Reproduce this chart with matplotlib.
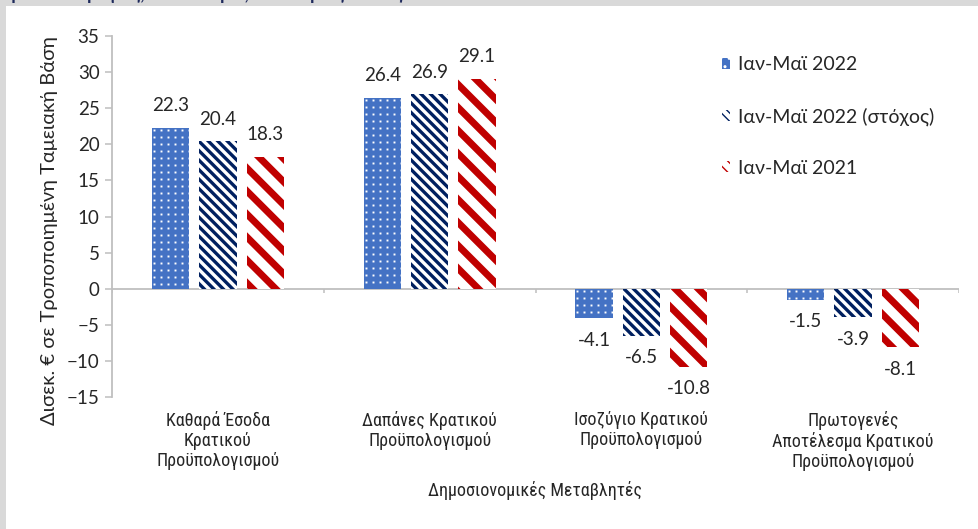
import numpy as np
import matplotlib
matplotlib.use('Agg')
import matplotlib.pyplot as plt
import matplotlib.patches as mpatches
from matplotlib.collections import LineCollection
from matplotlib.transforms import IdentityTransform
from matplotlib import font_manager

categories = ['Καθαρά Έσοδα\nΚρατικού\nΠροϋπολογισμού',
              'Δαπάνες Κρατικού\nΠροϋπολογισμού',
              'Ισοζύγιο Κρατικού\nΠροϋπολογισμού',
              'Πρωτογενές\nΑποτέλεσμα Κρατικού\nΠροϋπολογισμού']
series_names = ['Ιαν-Μαϊ 2022', 'Ιαν-Μαϊ 2022 (στόχος)', 'Ιαν-Μαϊ 2021']
jan_may_2022 = [22.3, 26.4, -4.1, -1.5]
jan_may_2022_target = [20.4, 26.9, -6.5, -3.9]
jan_may_2021 = [18.3, 29.1, -10.8, -8.1]
yticks = list(range(-15, 40, 5))

blue = '#4472C4'
navy = '#002060'
red = '#C00000'
grey = '#bfbfbf'
txt = '#262626'

plt.rcParams['font.family'] = ['Lato', 'Open Sans', 'DejaVu Sans']

# a condensed face for the category labels, if one is installed
installed = {f.name for f in font_manager.fontManager.ttflist}
narrow = [n for n in ['Liberation Sans Narrow', 'Roboto Condensed', 'DejaVu Sans Condensed',
                      'Open Sans Condensed', 'Noto Sans Condensed'] if n in installed]
narrow_family = narrow[:1] + ['Lato', 'DejaVu Sans']
narrow_size = 13 if narrow else 12.3

fig = plt.figure(figsize=(9.79, 5.29), dpi=100, facecolor='#d9d9d9')
# white panel, a thin grey frame shows on the left and top
fig.patches.append(mpatches.Rectangle((6/979, 0), 1, 1 - 6/529, transform=fig.transFigure,
                                      facecolor='white', edgecolor='none', zorder=-5))
# cut-off title from the page above (only the descenders show)
fig.text(0.0, 1.0, 'προϋπολογισμός, δισεκ. ευρώ, Ιανουάριος-Μάιος', color='#1f2a5c',
         fontsize=13, fontweight='bold', va='baseline', ha='left', zorder=-4)

ax = fig.add_axes([112/979, 132/529, 847/979, 361/529])
ax.set_facecolor('none')

x = np.arange(len(categories))
w = 0.176
step = 0.224
b1 = ax.bar(x - step, jan_may_2022, w, color=blue, zorder=2)
b2 = ax.bar(x, jan_may_2022_target, w, color='white', zorder=2)
b3 = ax.bar(x + step, jan_may_2021, w, color='white', zorder=2)

ax.set_xlim(-0.5, 3.5)
ax.set_ylim(-15, 35)
ax.set_yticks(yticks)
for s in ['top', 'right', 'bottom']:
    ax.spines[s].set_visible(False)
ax.spines['left'].set_color(grey)
ax.spines['left'].set_linewidth(1.3)
ax.tick_params(axis='y', direction='out', length=5, width=1.1, color=grey,
               labelsize=13.5, labelcolor=txt, pad=4)
ax.set_xticks(x)
ax.set_xticklabels(categories, family=narrow_family,
                   fontsize=narrow_size, color=txt, linespacing=1.15)
ax.tick_params(axis='x', length=0, pad=10)
ax.axhline(0, color=grey, lw=1.3, zorder=1)
ax.vlines(np.arange(-0.5, 4), -0.6, 0, color=grey, lw=1.1, zorder=1)

ax.set_ylabel('Δισεκ. € σε Τροποποιημένη Ταμειακή Βάση', fontsize=14.5, color=txt)
ax.yaxis.set_label_coords(-0.064, 0.46)
ax.set_xlabel('Δημοσιονομικές Μεταβλητές', fontsize=narrow_size, color=txt,
              family=narrow_family, labelpad=7)

for bars, vals in [(b1, jan_may_2022), (b2, jan_may_2022_target), (b3, jan_may_2021)]:
    for rect, v in zip(bars, vals):
        off = 16 if v >= 0 else -16
        ax.annotate(f'{v:.1f}', (rect.get_x() + rect.get_width()/2, v),
                    xytext=(0, off), textcoords='offset points',
                    ha='center', va='center', fontsize=13.5, color=txt, zorder=3)

# draw the fill patterns in pixel space, clipped to each bar
fig.canvas.draw()
for rect in b1:
    bb = rect.get_window_extent()
    xs = np.arange(bb.x0 + 2, bb.x1, 7)
    ys = np.arange(bb.y1 - 2, bb.y0, -7)
    gx, gy = np.meshgrid(xs, ys)
    dots = ax.plot(gx.ravel(), gy.ravel(), ls='', marker='s', ms=1.4, mew=0,
                   color='white', transform=IdentityTransform(), zorder=2.5)[0]
    dots.set_clip_path(rect)

def stripes(bars, color, period, lw):
    for rect in bars:
        bb = rect.get_window_extent()
        segs = []
        for c in np.arange(bb.x0 + bb.y0 - bb.height - 2*period, bb.x1 + bb.y1 + period, period):
            # line x + y = c  (top-left to bottom-right)
            segs.append([(c - bb.y1 - 5, bb.y1 + 5), (c - bb.y0 + 5, bb.y0 - 5)])
        lc = LineCollection(segs, colors=color, linewidths=lw, transform=IdentityTransform(),
                            zorder=2.5, capstyle='butt')
        ax.add_collection(lc)
        lc.set_clip_path(rect)

stripes(b2, navy, 9.5, 2.4)
stripes(b3, red, 23, 5.0)

handles = [mpatches.Patch(facecolor=blue, edgecolor='white', hatch='..', lw=0),
           mpatches.Patch(facecolor='white', edgecolor=navy, hatch='\\\\\\\\', lw=0),
           mpatches.Patch(facecolor='white', edgecolor=red, hatch='\\\\\\', lw=0)]
fig.legend(handles, series_names, loc='upper left', bbox_to_anchor=(722/979, 1 - 56/529),
           frameon=False, fontsize=14, handlelength=0.4, handleheight=0.5,
           handletextpad=0.4, labelspacing=1.75, borderpad=0, borderaxespad=0,
           labelcolor=txt)

fig.savefig('out.png', dpi=100, facecolor=fig.get_facecolor())
